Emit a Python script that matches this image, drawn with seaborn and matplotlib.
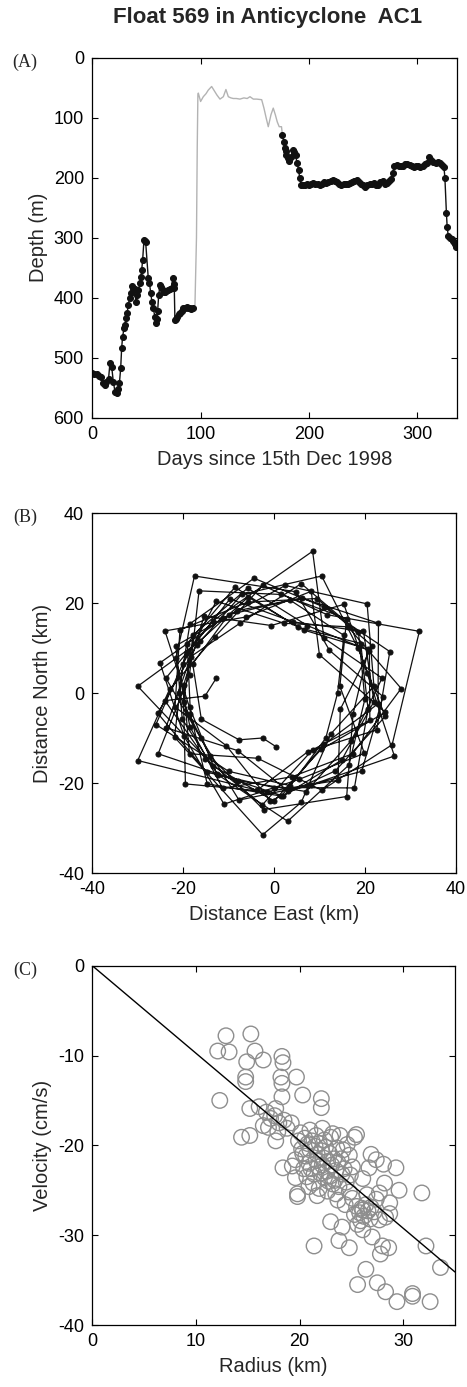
import numpy as np
import pandas as pd
import matplotlib
matplotlib.use("Agg")
import matplotlib.pyplot as plt
import seaborn as sns

sns.set_style("ticks")
plt.rcParams['font.family'] = ['Liberation Sans', 'DejaVu Sans']
plt.rcParams['axes.unicode_minus'] = False

# ---------------- Panel A data ----------------
days_a1 = [0, 2, 4, 6, 8, 10, 11.5, 13, 15, 16.3, 17.9, 19.4, 21, 22.5, 24, 25, 26.2, 27.1, 28,
           29.3, 30.2, 31.1, 32.2, 33.3, 34.4, 35.4, 36.3, 37.9, 39, 40.3, 41.4, 42.5, 44, 45,
           45.6, 46.5, 47.7, 48.5, 49.3, 51.7, 52.8, 53.9, 55.1, 56.3, 57.9, 58.8, 59.5, 60.3,
           61.3, 62.5, 63.5, 65, 66, 67.1, 68.5, 70.2, 71.8, 73.3, 74.2, 75, 75.7, 76.3, 77.4,
           78.5, 79.7, 80.9, 82.5, 84, 85.5, 87.1, 88.7, 90.2, 91.4, 92.6]
depth_a1 = [526, 527, 528, 530, 532, 543, 545, 540, 535, 509, 515, 540, 557, 559, 552, 543, 518,
            484, 465, 451, 445, 434, 425, 412, 400, 393, 381, 384, 385, 407, 395, 387, 376, 365,
            354, 337, 304, 306, 308, 368, 375, 392, 407, 418, 432, 443, 435, 423, 396, 379, 383,
            388, 391, 390, 389, 388, 386, 384, 368, 378, 384, 437, 435, 432, 428, 426, 422, 418,
            417, 416, 417, 418, 419, 418]

days_g = [92.6, 94.8, 96.2, 96.9, 97.5, 97.9, 100, 102.5, 105, 107.1, 110.2, 113.3, 115, 117.9,
          121, 123.4, 125.6, 128, 130.2, 133, 136.3, 140, 143, 145.6, 148.7, 151.8, 156.4, 158.5,
          160.5, 162.5, 165, 167.1, 169, 170.8, 172.6, 174.7, 175.6]
depth_g = [418, 412, 300, 150, 62, 59, 73, 65, 60, 54, 48, 57, 62, 69, 65, 53, 65, 67, 68, 68,
           69, 67, 68, 65, 69, 69, 70, 84, 100, 115, 95, 84, 95, 107, 115, 115, 129]

days_a2 = [175.6, 176.8, 177.7, 178.5, 179.3, 180.5, 181.7, 183.5, 185.4, 186.6, 187.8, 189,
           190.6, 191.5, 193, 194.5, 196.1, 198, 200, 202, 204, 206, 208, 210, 212, 214, 216,
           218, 220, 222, 224, 226, 228, 230, 232, 234, 236, 238, 240, 242, 244, 246, 248, 250,
           252, 254, 256, 258, 260, 262, 264, 266, 268, 270, 272, 274, 276, 277.3, 279, 281,
           283, 285, 287, 289, 291, 293, 295, 297, 299, 301, 303, 305, 307, 309, 311, 313, 315,
           317, 319, 321, 323, 324.7, 325.6, 327, 327.7, 328.7, 330, 331.7, 333, 333.9, 335, 336]
depth_a2 = [129, 140, 151, 156, 162, 168, 173, 165, 154, 158, 162, 176, 187, 201, 212, 213, 212,
            211, 212, 211, 209, 210, 211, 212, 210, 208, 209, 207, 206, 204, 205, 207, 210, 212,
            211, 210, 210, 209, 208, 206, 204, 207, 210, 213, 216, 213, 211, 210, 209, 212, 212,
            208, 205, 211, 209, 206, 203, 193, 180, 179, 180, 181, 180, 178, 177, 179, 181, 183,
            181, 180, 182, 180, 178, 175, 166, 170, 174, 175, 174, 176, 179, 182, 200, 259, 282,
            297, 300, 303, 306, 308, 311, 315]

# ---------------- Panel B data (km) ----------------
east_km = [0.4, -2.5, -7.7,
           -16.0, -17.9, -10.0, 3.6, 15.4, 14.0, 11.4, 3.6, -10.0,
           -26.0, -19.1, -9.7, 4.2, 19.7, 22.0, 14.9, 2.0, -12.6,
           -18.6, -24.0, -6.1, 8.2, 10.0, 24.5, 10.4, 0.0, -13.4,
           -30.0, -16.4, -5.7, 6.5, 20.8, 17.4, 16.0, -2.3, -14.1,
           -21.0, -18.5, -4.4, 11.0, 25.5, 22.6, 7.5, -3.7, -30.0,
           -23.0, -13.0, -2.5, 11.7, 32.0, 26.0, 10.5, -3.6, -18.6,
           -19.9, -15.4, -0.6, 15.4, 20.5, 26.5, 8.2, -7.7, -16.1,
           -23.8, -13.4, 8.5, 11.0, 23.8, 17.0, 7.1, -7.9, -25.5,
           -18.6, -16.5, 1.5, 16.0, 14.5, 19.9, 5.5, -11.0, -19.8,
           -25.1, -11.2, 2.5, 20.5, 22.0, 12.5, 6.0, -2.5, -21.9,
           -20.0, -12.7, 2.2, 16.3, 28.0, 17.3, 4.0, -11.3, -18.5,
           -21.6, -17.5, 4.8, 12.2, 24.0, 19.3, 3.1, -8.0, -23.8,
           -18.3, -7.5, 6.0, 18.6, 20.0, 16.5, 3.0, -12.3, -20.2,
           -21.6, -8.1, 6.1, 23.0, 22.9, 11.0, 1.6, -14.7, -18.4,
           -19.1, -8.6, 5.3, 19.1, 20.7, 17.7, 0.0, -14.8, -25.6,
           -17.0, -7.1, 10.5, 18.5, 24.5, 13.5, -0.8, -10.5, -21.8,
           -20.7, -5.8, 9.4, 21.6, 14.6, 14.1, -1.5, -19.5, -19.9,
           -17.8, -5.8, 7.3, 21.0, 21.1, 8.5, -2.6, -15.1, -24.0,
           -15.2, -12.7]
north_km = [-11.9, -10.0, -10.4,
            -5.8, 6.5, 17.4, 20.6, 12.8, 0.0, -10.0, -20.6, -17.4,
            -7.0, 8.8, 20.9, 15.8, 13.7, -1.9, -14.9, -22.9, -18.0,
            -3.2, 13.8, 16.9, 22.6, 8.5, -4.3, -12.5, -24.0, -16.2,
            1.5, 11.5, 21.3, 14.0, 9.7, -4.7, -23.0, -25.9, -14.1,
            0.0, 15.4, 25.5, 19.1, 9.2, -8.2, -13.0, -21.6, -15.0,
            0.8, 12.5, 23.9, 17.4, 13.7, -11.5, -21.6, -14.5, -13.5,
            1.7, 17.1, 15.0, 19.7, 4.4, -14.0, -20.4, -23.8, -10.1,
            3.3, 16.1, 31.5, 12.2, 3.3, -10.6, -21.9, -19.5, -13.5,
            4.0, 22.7, 21.9, 16.5, 1.5, -13.4, -19.2, -24.7, -9.6,
            6.7, 16.6, 23.9, 19.8, 1.5, -9.1, -24.3, -31.5, -9.8,
            6.5, 20.4, 15.5, 14.7, 1.0, -13.5, -18.6, -21.2, -7.5,
            7.8, 26.0, 22.5, 9.5, -0.8, -17.4, -21.8, -12.8, -7.7,
            8.1, 15.5, 24.3, 13.5, -1.4, -16.0, -28.5, -18.2, -5.8,
            10.5, 18.3, 21.1, 15.5, -2.4, -11.4, -22.9, -20.2, -4.6,
            11.0, 23.5, 14.6, 11.0, -3.6, -21.1, -21.0, -17.6, -4.5,
            10.6, 21.9, 26.0, 9.9, -5.2, -17.3, -24.0, -11.7, -3.1,
            14.0, 20.2, 21.0, 10.5, -3.6, -19.4, -21.9, -20.2, -2.1,
            12.9, 23.3, 15.0, 9.4, -6.1, -12.6, -24.9, -14.6, -1.7,
            -0.7, 3.3]

# ---------------- Panel C data ----------------
radius_km = [12.9, 15.3, 12.1, 13.2, 15.7, 14.9, 16.5, 18.3, 18.4, 14.8, 14.8, 18.2, 19.7, 18.3,
             12.3, 15.2, 16.1, 20.3, 22.1, 22.1, 17.7, 18.3, 15.2, 14.4, 17.7, 18.4, 19.8, 21.4,
             25.3, 25.5, 26.9, 29.3, 28.1, 26.7, 26.1, 29.6, 27.7, 31.8, 28.7, 26.1, 23.7, 24.4,
             23.0, 24.1, 25.6, 26.1, 28.3, 27.7, 28.7, 23.8, 24.8, 27.0, 28.0, 27.8, 28.6, 32.2,
             33.6, 26.4, 25.6, 27.5, 28.3, 29.4, 30.9, 30.9, 32.6,
             16.8, 17.2, 17.6, 18.0, 18.5, 17.0, 18.8, 17.9, 19.2, 16.5,
             19.3, 19.6, 20.2, 19.8,
             20.5, 20.8, 21.0, 21.2, 21.5, 21.7, 21.9, 22.1, 22.3, 22.5, 22.7, 22.9, 23.1, 23.3,
             23.5, 23.7, 20.6, 20.9, 21.1, 21.4, 21.6, 21.8, 22.0, 22.2, 22.4, 22.6, 22.8, 23.0,
             23.2, 23.4, 23.8, 24.1, 20.3, 20.7, 21.3, 21.9, 22.4, 23.0, 23.6, 24.0, 24.3, 24.6,
             24.8, 25.1, 19.9, 20.1, 21.0, 21.6, 22.2, 23.2, 20.4, 24.5, 24.9, 20.9, 22.7, 23.5,
             21.7, 19.6, 23.9, 24.2,
             25.5, 25.8, 26.0, 26.2, 26.4, 26.6, 26.8, 25.9, 25.3, 26.9, 27.2, 25.1, 26.5, 27.4,
             27.4, 28.2, 24.8]
velocity_cms = [-7.8, -7.6, -9.5, -9.6, -9.5, -10.7, -10.5, -10.1, -10.8, -12.4, -12.9, -12.4,
                -12.4, -13.1, -15.0, -15.9, -15.7, -14.4, -14.8, -15.8, -15.9, -14.6, -18.9,
                -19.1, -19.5, -22.5, -25.7, -31.2, -19.1, -18.8, -21.0, -22.5, -22.1, -22.5,
                -23.7, -25.0, -25.3, -25.3, -26.4, -27.2, -26.1, -26.6, -28.5, -29.1, -28.8,
                -29.4, -28.0, -28.3, -27.6, -30.6, -31.4, -30.2, -31.2, -32.1, -31.4, -31.2,
                -33.6, -33.8, -35.5, -35.3, -36.3, -37.4, -36.5, -36.8, -37.4,
                -16.3, -17.0, -16.7, -17.5, -17.2, -18.0, -18.1, -18.5, -17.5, -17.8,
                -22.3, -21.6, -20.4, -25.4,
                -19.2, -19.8, -20.5, -19.5, -20.1, -21.0, -19.8, -20.6, -21.4, -20.2, -21.8,
                -20.9, -22.2, -21.5, -22.8, -21.9, -21.2, -22.0, -22.6, -23.2, -21.7, -22.4,
                -23.1, -22.2, -23.6, -22.9, -24.0, -23.4, -24.3, -23.9, -24.6, -23.2, -20.9,
                -23.5, -24.2, -24.8, -19.4, -19.1, -20.3, -21.5, -22.6, -19.9, -21.1, -22.4,
                -19.5, -18.6, -18.3, -18.9, -18.1, -18.7, -22.6, -24.1, -23.3, -24.6, -25.1,
                -25.4, -25.6, -23.6, -18.9, -20.5,
                -26.8, -27.5, -27.0, -27.9, -26.6, -27.3, -28.2, -28.4, -27.7, -26.9, -27.4,
                -25.9, -25.5, -26.0, -21.6, -24.2, -25.2]
fit_radius = [0, 35]
fit_velocity = [0, -34.1]

# ---------------- Figure ----------------
W, H = 467, 1387
fig = plt.figure(figsize=(W / 100, H / 100), dpi=100)

def ax_at(left, top, right, bottom):
    return fig.add_axes([left / W, 1 - bottom / H, (right - left) / W, (bottom - top) / H])

axA = ax_at(92.3, 57.7, 456.7, 417.7)
axB = ax_at(92.3, 513, 455.7, 873)
axC = ax_at(92.3, 965.7, 455, 1325)

TFS = 13
LFS = 14.5

def style(ax):
    for s in ax.spines.values():
        s.set_visible(True)
        s.set_color('black')
        s.set_linewidth(0.9)
    ax.tick_params(direction='in', top=True, right=True, length=4, width=0.8,
                   labelsize=TFS, colors='black', pad=6)
    ax.grid(False)
    ax.set_facecolor('white')

# Panel A
dfa1 = pd.DataFrame({'day': days_a1, 'depth': depth_a1})
dfg = pd.DataFrame({'day': days_g, 'depth': depth_g})
dfa2 = pd.DataFrame({'day': days_a2, 'depth': depth_a2})
sns.lineplot(data=dfg, x='day', y='depth', ax=axA, sort=False, estimator=None,
             color='#b3b3b3', linewidth=1.0)
for d in (dfa1, dfa2):
    sns.lineplot(data=d, x='day', y='depth', ax=axA, sort=False, estimator=None,
                 color='#111111', linewidth=1.0, marker='o', markersize=4.3,
                 markeredgecolor='#111111', markerfacecolor='#111111')
axA.set_xlim(0, 336.5)
axA.set_ylim(600, 0)
axA.set_xticks([0, 100, 200, 300])
axA.set_yticks([0, 100, 200, 300, 400, 500, 600])
axA.set_xlabel('Days since 15th Dec 1998', fontsize=LFS, labelpad=5)
axA.set_ylabel('Depth (m)', fontsize=LFS)
style(axA)

# Panel B
dfb = pd.DataFrame({'east': east_km, 'north': north_km})
sns.lineplot(data=dfb, x='east', y='north', ax=axB, sort=False, estimator=None,
             color='#111111', linewidth=0.9, marker='o', markersize=3.6,
             markeredgecolor='#111111', markerfacecolor='#111111')
axB.set_xlim(-40, 40)
axB.set_ylim(-40, 40)
axB.set_xticks([-40, -20, 0, 20, 40])
axB.set_yticks([-40, -20, 0, 20, 40])
axB.set_xlabel('Distance East (km)', fontsize=LFS, labelpad=5)
axB.set_ylabel('Distance North (km)', fontsize=LFS)
style(axB)

# Panel C
dfc = pd.DataFrame({'radius': radius_km, 'velocity': velocity_cms})
sns.scatterplot(data=dfc, x='radius', y='velocity', ax=axC, s=125, marker='o',
                facecolors='none', edgecolor='#8e8e8e', linewidth=1.0)
sns.lineplot(x=fit_radius, y=fit_velocity, ax=axC, color='black', linewidth=1.0)
axC.set_xlim(0, 35)
axC.set_ylim(-40, 0)
axC.set_xticks([0, 10, 20, 30])
axC.set_yticks([-40, -30, -20, -10, 0])
axC.set_xlabel('Radius (km)', fontsize=LFS, labelpad=5)
axC.set_ylabel('Velocity (cm/s)', fontsize=LFS)
style(axC)

# Titles and panel labels
fig.text(268 / W, 1 - 18 / H, 'Float 569 in Anticyclone  AC1', ha='center', va='center',
         fontsize=16, fontweight='bold')
for lab, ypx in (('(A)', 62), ('(B)', 517), ('(C)', 970)):
    fig.text(25 / W, 1 - ypx / H, lab, ha='center', va='center', fontsize=13,
             family='Liberation Serif')

fig.savefig('out.png', dpi=100, facecolor='white')
